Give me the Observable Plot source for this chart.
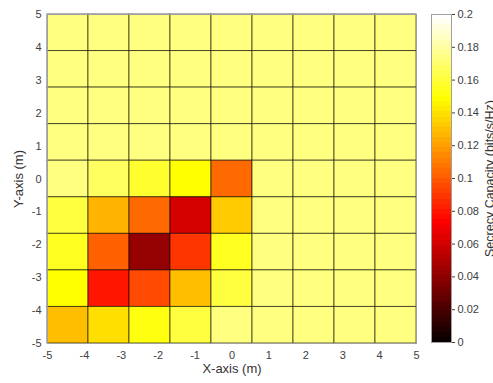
<!DOCTYPE html>
<html><head><meta charset="utf-8">
<script src="https://cdn.jsdelivr.net/npm/d3@7"></script>
<script src="https://cdn.jsdelivr.net/npm/@observablehq/plot@0.6"></script>
<style>
html,body{margin:0;padding:0;background:#fff;overflow:hidden}
#wrap{position:relative;width:493px;height:383px}
#wrap svg{position:absolute;left:0;top:0}
</style></head><body><div id="wrap"></div>
<script>
// cell edges (9 x 9 cells spanning -5..5)
const xEdges = [-5, -3.889, -2.778, -1.667, -0.556, 0.556, 1.667, 2.778, 3.889, 5];
const yEdges = [-5, -3.889, -2.778, -1.667, -0.556, 0.556, 1.667, 2.778, 3.889, 5];
// secrecy capacity, rows listed from top (y≈5) to bottom (y≈-5), columns left to right
const capacity = [
  [0.173, 0.173, 0.173, 0.173, 0.173, 0.173, 0.173, 0.173, 0.173],
  [0.173, 0.173, 0.173, 0.173, 0.173, 0.173, 0.173, 0.173, 0.173],
  [0.173, 0.173, 0.173, 0.173, 0.173, 0.173, 0.173, 0.173, 0.173],
  [0.173, 0.173, 0.173, 0.173, 0.173, 0.173, 0.173, 0.173, 0.173],
  [0.175, 0.167, 0.158, 0.150, 0.105, 0.173, 0.173, 0.173, 0.173],
  [0.160, 0.127, 0.105, 0.060, 0.134, 0.173, 0.173, 0.173, 0.173],
  [0.155, 0.100, 0.042, 0.090, 0.156, 0.173, 0.173, 0.173, 0.173],
  [0.147, 0.080, 0.094, 0.129, 0.160, 0.173, 0.173, 0.173, 0.173],
  [0.129, 0.140, 0.153, 0.160, 0.175, 0.173, 0.173, 0.173, 0.173]
];
const axisTicks = [-5, -4, -3, -2, -1, 0, 1, 2, 3, 4, 5];
const colorTicks = [0, 0.02, 0.04, 0.06, 0.08, 0.1, 0.12, 0.14, 0.16, 0.18, 0.2];
const colorTickLabels = ["0", "0.02", "0.04", "0.06", "0.08", "0.1", "0.12", "0.14", "0.16", "0.18", "0.2"];
const colorLimits = [0, 0.2];
const xLabel = "X-axis (m)";
const yLabel = "Y-axis (m)";
const cLabel = "Secrecy Capacity (bits/s/Hz)";

// MATLAB "hot" colormap with 64 entries
function hot(t) {
  const m = 64;
  let i = Math.floor(t * m);
  i = Math.max(0, Math.min(m - 1, i)) + 1;
  const cl = v => Math.max(0, Math.min(1, v));
  const r = cl(i / 24), g = cl((i - 24) / 24), b = cl((i - 48) / 16);
  return `rgb(${Math.round(r * 255)},${Math.round(g * 255)},${Math.round(b * 255)})`;
}

const cells = [];
capacity.forEach((row, r) => row.forEach((v, c) => {
  cells.push({x1: xEdges[c], x2: xEdges[c + 1], y1: yEdges[8 - r], y2: yEdges[9 - r], v});
}));

const step = (colorLimits[1] - colorLimits[0]) / 64;
const slices = d3.range(64).map(i => ({y1: i * step, y2: (i + 1) * step, v: (i + 0.5) * step}));

const font = {fontFamily: "'Liberation Sans', Arial, Helvetica, sans-serif", fontSize: "11px", color: "#404040"};

const main = Plot.plot({
  width: 493, height: 383,
  marginLeft: 47, marginRight: 77, marginTop: 14, marginBottom: 40,
  style: {...font, background: "white"},
  x: {domain: [-5, 5]},
  y: {domain: [-5, 5]},
  color: {type: "linear", domain: colorLimits, interpolate: hot},
  marks: [
    Plot.rect(cells, {x1: "x1", x2: "x2", y1: "y1", y2: "y2", fill: "v", stroke: "#000", strokeOpacity: 0.6, strokeWidth: 1}),
    Plot.frame({stroke: "#a0a0a0"}),
    Plot.axisX({ticks: axisTicks, tickSize: 0, tickPadding: 8, label: null, tickFormat: d => String(d)}),
    Plot.axisY({ticks: axisTicks, tickSize: 0, tickPadding: 6, label: null, tickFormat: d => String(d)}),
    Plot.text([xLabel], {frameAnchor: "bottom", dy: 29, textAnchor: "middle", text: d => d, fontSize: 13, fill: "#333"}),
    Plot.text([yLabel], {frameAnchor: "left", dx: -29, rotate: -90, textAnchor: "middle", text: d => d, fontSize: 13, fill: "#333"})
  ]
});

const bar = Plot.plot({
  width: 493, height: 383,
  marginLeft: 431, marginRight: 42, marginTop: 14, marginBottom: 41,
  style: {...font, background: "transparent"},
  y: {domain: colorLimits},
  color: {type: "linear", domain: colorLimits, interpolate: hot},
  marks: [
    Plot.rect(slices, {y1: "y1", y2: "y2", fill: "v", shapeRendering: "crispEdges"}),
    Plot.frame({stroke: "#a0a0a0"}),
    Plot.axisY({anchor: "right", ticks: colorTicks, tickSize: 3, tickPadding: 3, label: null,
      tickFormat: (d) => colorTickLabels[colorTicks.indexOf(d)]}),
    Plot.text([cLabel], {frameAnchor: "right", dx: 38, rotate: -90, textAnchor: "middle", text: d => d, fontSize: 12.5, fill: "#333"})
  ]
});

document.getElementById("wrap").append(main, bar);
</script>
</body></html>
